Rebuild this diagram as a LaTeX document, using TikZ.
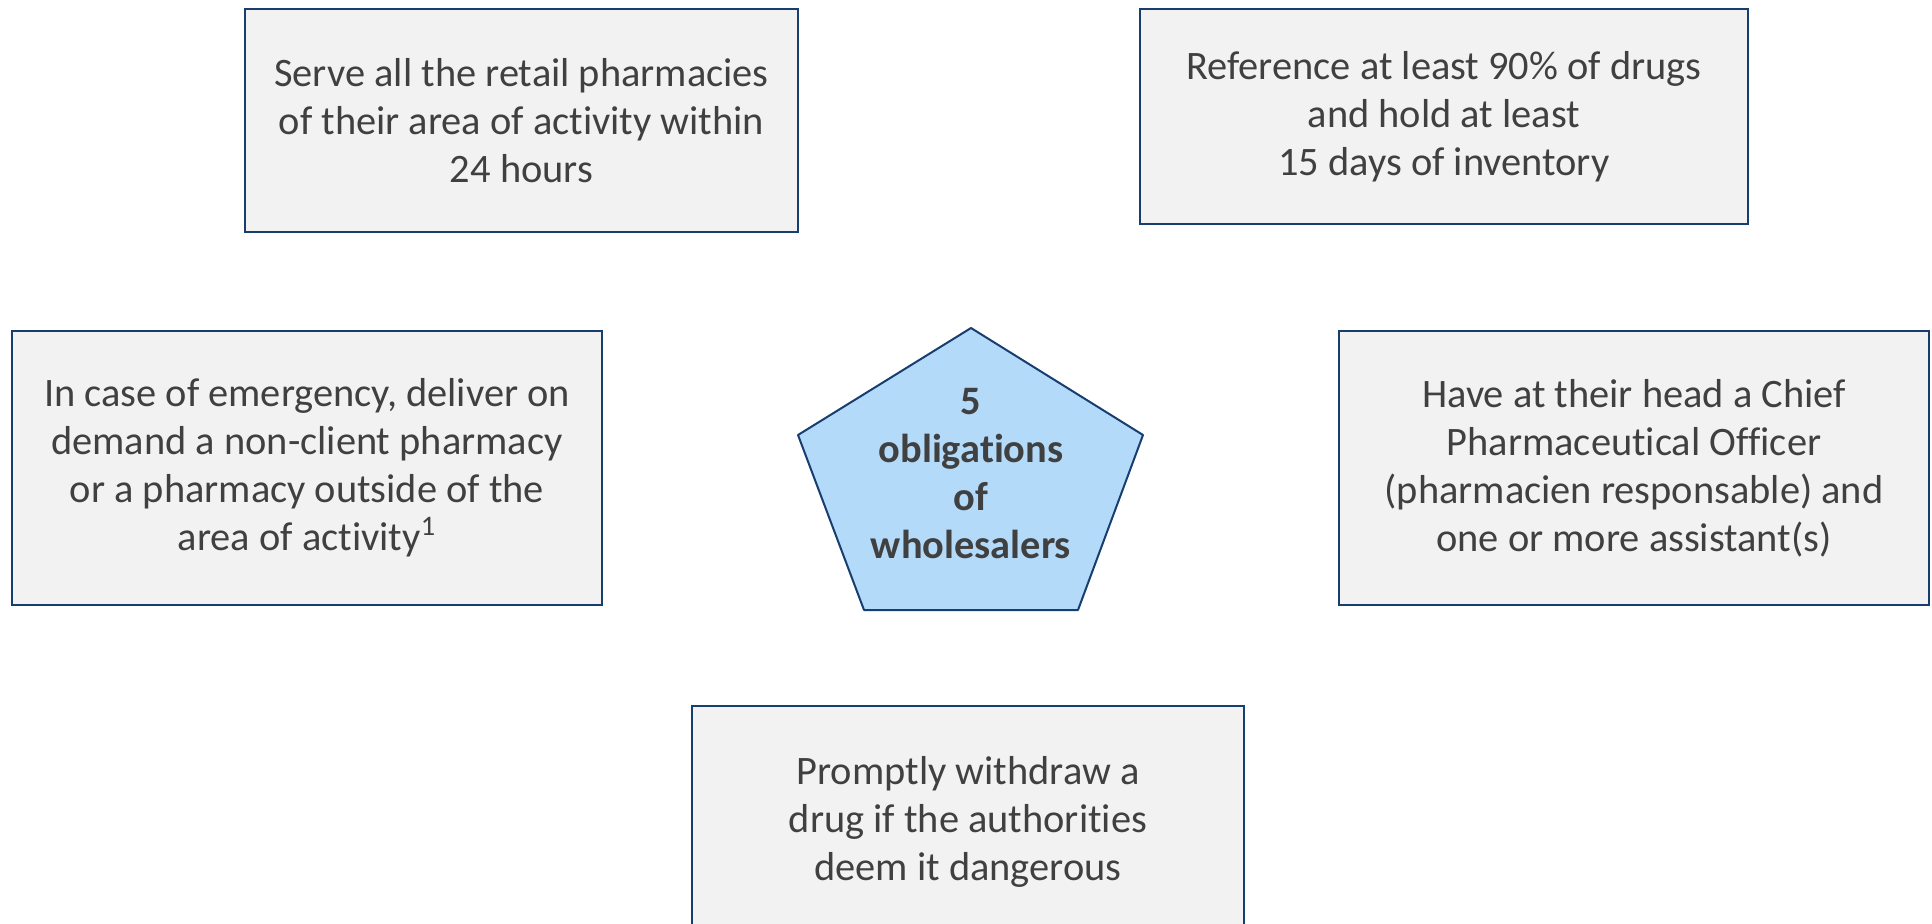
\documentclass[tikz,border=0pt]{standalone}
\usepackage{fontspec}
\setmainfont{Carlito}[Ligatures=CommonOff]
\definecolor{navyline}{RGB}{24,62,112}
\definecolor{boxgray}{RGB}{242,242,242}
\definecolor{hubblue}{RGB}{180,218,250}
\definecolor{textgray}{RGB}{64,64,64}
\begin{document}
\begin{tikzpicture}[x=0.5pt, y=-0.5pt,
  duty/.style={draw=navyline, fill=boxgray, line width=1pt, align=center, text=textgray,
    inner sep=0pt, font=\fontsize{20.2}{24}\selectfont},
  hub/.style={draw=navyline, fill=hubblue, line width=1pt, line join=round},
  hubtext/.style={align=center, text=textgray, inner sep=0pt, font=\fontsize{20.2}{24}\selectfont\bfseries},
]
\useasboundingbox (0,0) rectangle (1932,924);

% ---------------------------------------------------------------- centre
\coordinate (p1) at (971,328);
\coordinate (p2) at (1143,435);
\coordinate (p3) at (1078,610);
\coordinate (p4) at (864,610);
\coordinate (p5) at (798,435);
\draw[hub] (p1) -- (p2) -- (p3) -- (p4) -- (p5) -- cycle;
\node[hubtext] (core) at (971,474) {5\\obligations\\of\\wholesalers};

% ---------------------------------------------------------------- top row
\node[duty, minimum width=276.5pt, minimum height=111.5pt] (serve) at (521.5,120.5)
  {Serve all the retail pharmacies\\of their area of activity within\\24 hours};
\node[duty, minimum width=304pt, minimum height=107.5pt] (stock) at (1444,116.5)
  {Reference at least 90\% of drugs\\and hold at least\\15 days of inventory};

% ---------------------------------------------------------------- middle row
\node[duty, minimum width=295pt, minimum height=137pt] (urgent) at (307,468)
  {In case of emergency, deliver on\\demand a non-client pharmacy\\or a pharmacy outside of the\\area of activity\textsuperscript{1}};
\node[duty, minimum width=295pt, minimum height=137pt] (chief) at (1634,468)
  {Have at their head a Chief\\Pharmaceutical Officer\\(pharmacien responsable) and\\one or more assistant(s)};

% ---------------------------------------------------------------- bottom
\node[duty, minimum width=276pt, minimum height=116pt] (recall) at (968,822)
  {Promptly withdraw a\\drug if the authorities\\deem it dangerous};
\end{tikzpicture}
\end{document}
